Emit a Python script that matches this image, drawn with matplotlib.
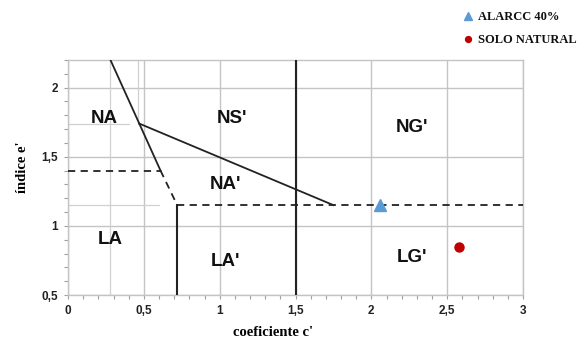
import matplotlib.pyplot as plt
import numpy as np

# limites das zonas (c', e')
linha_na_x = [0.28, 0.47, 0.61]
linha_na_y = [2.2, 1.74, 1.40]
linha_na_tr_x = [0.61, 0.72]
linha_na_tr_y = [1.40, 1.15]
linha_ns_x = [0.47, 1.75]
linha_ns_y = [1.74, 1.15]
tracejado_sup_x = [0, 0.61]
tracejado_sup_y = [1.40, 1.40]
tracejado_inf_x = [0.72, 3.0]
tracejado_inf_y = [1.15, 1.15]
vertical_la_x = [0.72, 0.72]
vertical_la_y = [0.5, 1.15]
vertical_15_x = [1.5, 1.5]
vertical_15_y = [0.5, 2.2]

# linhas auxiliares cinzentas
aux_v1_x = [0.28, 0.28]
aux_v1_y = [0.5, 2.2]
aux_v2_x = [0.46, 0.46]
aux_v2_y = [1.74, 2.2]
aux_h1_x = [0, 0.4]
aux_h1_y = [1.74, 1.74]
aux_h2_x = [0, 0.6]
aux_h2_y = [1.15, 1.15]

# amostras
alarcc_c = [2.06]
alarcc_e = [1.15]
solo_c = [2.58]
solo_e = [0.85]

zonas = ["NA", "NS'", "NG'", "NA'", "LA", "LA'", "LG'"]
zonas_x = [0.24, 1.08, 2.27, 1.04, 0.28, 1.04, 2.27]
zonas_y = [1.78, 1.78, 1.71, 1.30, 0.90, 0.74, 0.77]

xticks = [0, 0.5, 1, 1.5, 2, 2.5, 3]
xlabels = ["0", "0,5", "1", "1,5", "2", "2,5", "3"]
yticks = [0.5, 1, 1.5, 2]
ylabels = ["0,5", "1", "1,5", "2"]

fig = plt.figure(figsize=(5.84, 3.45), dpi=100)
ax = fig.add_axes([68/584, 1-295/345, 455/584, 235/345])

cinza = "#c4c4c4"
for xs, ys in [(aux_v1_x, aux_v1_y), (aux_v2_x, aux_v2_y), (aux_h1_x, aux_h1_y), (aux_h2_x, aux_h2_y)]:
    ax.plot(xs, ys, color="#d0d0d0", lw=0.9, zorder=1)

ax.plot(linha_na_x, linha_na_y, color="#222222", lw=1.3, zorder=3)
ax.plot(linha_na_tr_x, linha_na_tr_y, color="#222222", lw=1.3, ls=(0, (4, 3)), zorder=3)
ax.plot(linha_ns_x, linha_ns_y, color="#222222", lw=1.3, zorder=3)
ax.plot(tracejado_sup_x, tracejado_sup_y, color="#222222", lw=1.3, ls=(0, (4, 3)), zorder=3)
ax.plot(tracejado_inf_x, tracejado_inf_y, color="#222222", lw=1.3, ls=(0, (4, 3)), zorder=3)
ax.plot(vertical_la_x, vertical_la_y, color="#222222", lw=1.5, zorder=3)
ax.plot(vertical_15_x, vertical_15_y, color="#222222", lw=1.5, zorder=3)

ax.plot(alarcc_c, alarcc_e, "^", color="#5b9bd5", ms=8, zorder=4, label="ALARCC 40%")
ax.plot(solo_c, solo_e, "o", color="#c00000", ms=6.5, zorder=4, label="SOLO NATURAL")

for t, x, y in zip(zonas, zonas_x, zonas_y):
    ax.text(x, y, t, ha="center", va="center", fontsize=13.5, fontweight="bold",
            family="Liberation Sans", color="#111111")

ax.set_xlim(0, 3)
ax.set_ylim(0.5, 2.2)
ax.set_xticks(xticks)
ax.set_xticklabels(xlabels)
ax.set_yticks(yticks)
ax.set_yticklabels(ylabels)
ax.set_xticks(np.arange(0, 3.01, 0.1), minor=True)
ax.set_yticks(np.arange(0.5, 2.21, 0.1), minor=True)
ax.grid(True, which="major", color=cinza, lw=1.0, zorder=0)
ax.set_axisbelow(True)
ax.tick_params(which="both", direction="out", length=3, color="#a0a0a0", width=0.8)
ax.tick_params(which="major", pad=4)
for lab in ax.get_xticklabels() + ax.get_yticklabels():
    lab.set_fontfamily("Liberation Sans")
    lab.set_fontweight("bold")
    lab.set_fontsize(8.5)
    lab.set_color("#222222")
for s in ax.spines.values():
    s.set_color(cinza)
    s.set_linewidth(1.0)

fig.text(273/584, 1-332/345, "coeficiente c'", ha="center", va="center",
         family="Liberation Serif", fontweight="bold", fontsize=10.5)
fig.text(22/584, 1-167/345, "índice e'", ha="center", va="center", rotation=90,
         family="Liberation Serif", fontweight="bold", fontsize=10.5)

leg = fig.legend(loc="upper left", bbox_to_anchor=(452/584, 1.0), frameon=False,
                 prop={"family": "Liberation Serif", "weight": "bold", "size": 9},
                 handlelength=0.8, handletextpad=0.4, labelspacing=0.85, markerscale=0.65)
for t in leg.get_texts():
    t.set_color("#111111")

fig.savefig("out.png", dpi=100)
